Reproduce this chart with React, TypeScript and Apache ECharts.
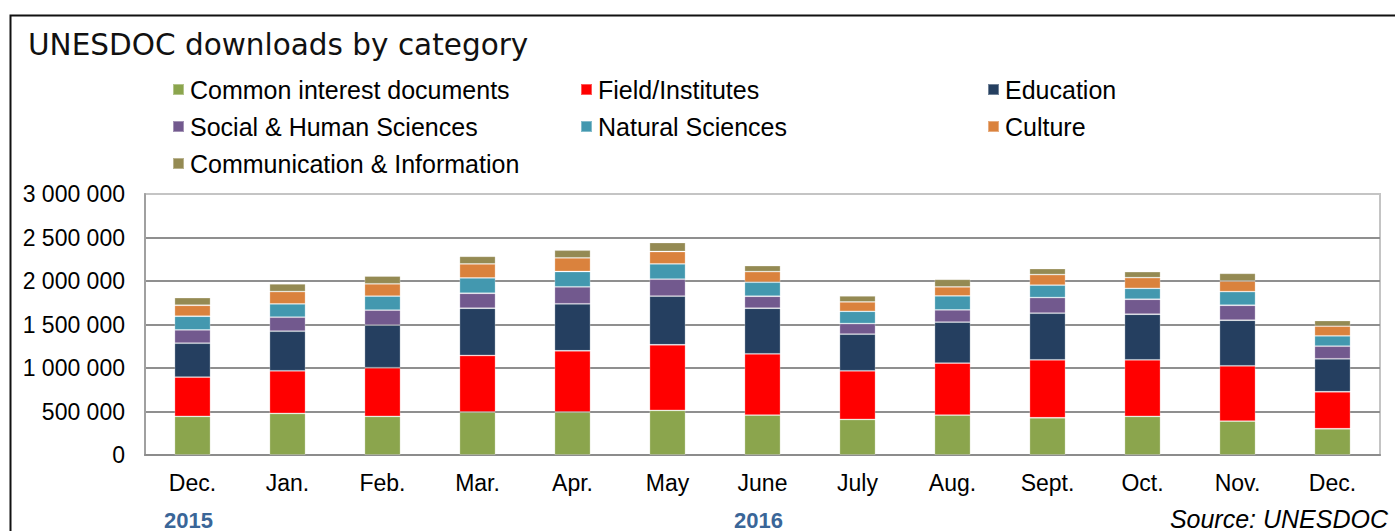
import React, { useEffect, useRef } from "react";
import * as echarts from "echarts";

const months = ["Dec.", "Jan.", "Feb.", "Mar.", "Apr.", "May", "June", "July", "Aug.", "Sept.", "Oct.", "Nov.", "Dec."];
const yearLabels = ["2015", "", "", "", "", "", "2016", "", "", "", "", "", ""];

const commonInterest = [444000, 478000, 444000, 494000, 494000, 513000, 459000, 409000, 459000, 428000, 444000, 390000, 302000];
const fieldInstitutes = [451000, 490000, 559000, 650000, 704000, 754000, 704000, 559000, 597000, 666000, 650000, 635000, 425000];
const education = [390000, 455000, 490000, 543000, 540000, 559000, 524000, 421000, 471000, 536000, 524000, 524000, 379000];
const socialHuman = [153000, 161000, 172000, 172000, 195000, 195000, 138000, 122000, 141000, 180000, 172000, 172000, 145000];
const naturalSciences = [157000, 153000, 161000, 176000, 176000, 176000, 161000, 141000, 161000, 142000, 126000, 157000, 119000];
const culture = [126000, 142000, 142000, 161000, 157000, 142000, 122000, 107000, 103000, 122000, 122000, 122000, 111000];
const communication = [88000, 88000, 88000, 88000, 88000, 103000, 69000, 69000, 88000, 69000, 69000, 88000, 65000];

const seriesDefs = [
  { name: "Common interest documents", data: commonInterest, color: "#8BA54D" },
  { name: "Field/Institutes", data: fieldInstitutes, color: "#FF0000" },
  { name: "Education", data: education, color: "#253F60" },
  { name: "Social & Human Sciences", data: socialHuman, color: "#72598E" },
  { name: "Natural Sciences", data: naturalSciences, color: "#4398AF" },
  { name: "Culture", data: culture, color: "#DA823D" },
  { name: "Communication & Information", data: communication, color: "#948A53" },
];

const FONT = "'Liberation Sans', Arial, sans-serif";

function fmt(v: number): string {
  return String(v).replace(/\B(?=(\d{3})+(?!\d))/g, " ");
}

export default function App() {
  const ref = useRef<HTMLDivElement>(null);
  useEffect(() => {
    if (!ref.current) return;
    const chart = echarts.init(ref.current, null, { renderer: "svg" });
    const legendBase = {
      orient: "vertical" as const,
      itemWidth: 11,
      itemHeight: 11,
      itemGap: 12,
      icon: "rect",
      top: 77,
      padding: 0,
      textStyle: { fontFamily: FONT, fontSize: 25, color: "#000", padding: [0, 0, 0, 1] },
      selectedMode: false,
    };
    chart.setOption({
      animation: false,
      backgroundColor: "#fff",
      title: {
        text: "UNESDOC downloads by category",
        left: 23,
        top: 25,
        textStyle: { fontFamily: "'DejaVu Sans', sans-serif", fontSize: 29.5, fontWeight: "normal", color: "#111" },
      },
      legend: [
        { ...legendBase, left: 172, data: ["Common interest documents", "Social & Human Sciences", "Communication & Information"] },
        { ...legendBase, left: 580, data: ["Field/Institutes", "Natural Sciences"] },
        { ...legendBase, left: 987, data: ["Education", "Culture"] },
      ],
      grid: {
        left: 145,
        right: 15,
        top: 194,
        bottom: 76,
        show: true,
        borderColor: "#c4c4c4",
        borderWidth: 2,
      },
      xAxis: [
        {
          type: "category",
          data: months,
          axisLine: { show: true, lineStyle: { color: "#8c8c8c", width: 2 } },
          axisTick: { show: false },
          axisLabel: { interval: 0, margin: 16, fontFamily: FONT, fontSize: 23, color: "#000" },
        },
        {
          type: "category",
          data: months,
          position: "bottom",
          offset: 37,
          axisLine: { show: false },
          axisTick: { show: false },
          axisLabel: {
            interval: 0,
            margin: 17,
            fontFamily: FONT,
            fontSize: 22,
            fontWeight: "bold",
            color: "#3A6698",
            padding: [0, 8, 0, 0],
            formatter: (_v: string, i: number) => yearLabels[i],
          },
        },
      ],
      yAxis: {
        type: "value",
        min: 0,
        max: 3000000,
        interval: 500000,
        axisLine: { show: true, lineStyle: { color: "#a0a0a0", width: 2 } },
        axisTick: { show: false },
        axisLabel: { margin: 20, fontFamily: FONT, fontSize: 23, color: "#000", formatter: (v: number) => fmt(v) },
        splitLine: {
          show: true,
          lineStyle: {
            color: ["#8f8f8f", "#8f8f8f", "#8f8f8f", "#8f8f8f", "#8f8f8f", "#8f8f8f", "#c4c4c4"],
            width: 2,
          },
        },
      },
      series: seriesDefs.map((s) => ({
        name: s.name,
        type: "bar",
        stack: "total",
        xAxisIndex: 0,
        data: s.data,
        barWidth: 36,
        itemStyle: { color: s.color, borderColor: "rgba(255,255,255,0.35)", borderWidth: 0.8 },
      })),
      graphic: [
        {
          type: "rect",
          left: 8,
          top: 13,
          shape: { x: 8, y: 13, width: 1500, height: 700 },
          style: { fill: "none", stroke: "#111", lineWidth: 2 },
          silent: true,
        },
        {
          type: "text",
          right: 7,
          top: 506,
          style: {
            text: "Source: UNESDOC",
            font: `italic 25px ${FONT}`,
            fill: "#000",
          },
        },
      ],
    });
    return () => chart.dispose();
  }, []);
  return <div ref={ref} style={{ position: "absolute", left: 0, top: 0, width: 1395, height: 531 }} />;
}
